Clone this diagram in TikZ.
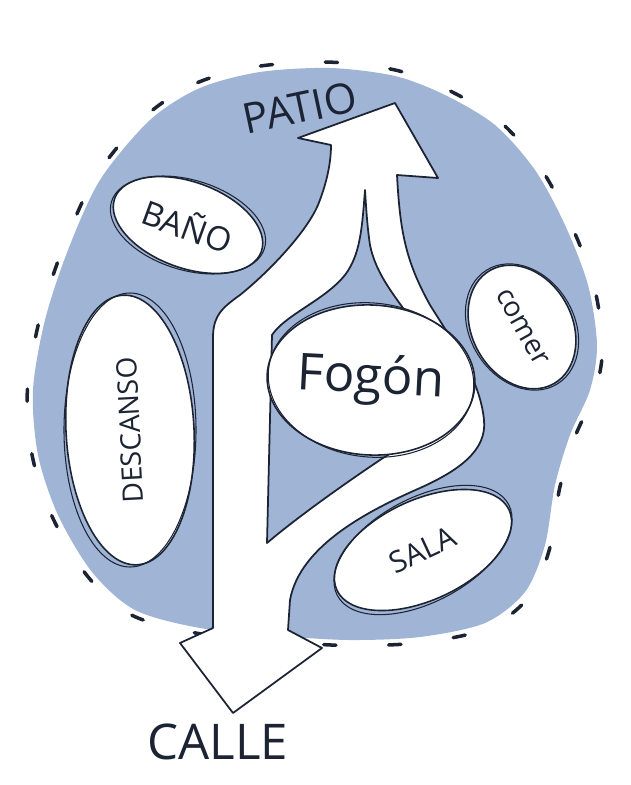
\documentclass[tikz,border=0pt]{standalone}
\usepackage{fontspec}
\setmainfont{Open Sans}
\usetikzlibrary{shapes.geometric}
\definecolor{patioblue}{RGB}{160,180,214}
\definecolor{ink}{RGB}{28,36,52}
\begin{document}
\begin{tikzpicture}[x=0.02cm,y=-0.02cm,
  room/.style={ellipse,draw=ink,fill=white,line width=0.9pt,inner sep=0pt,text=ink},
  sketch/.style={draw=ink,line width=0.6pt},
  label/.style={text=ink,inner sep=0pt}]
  \useasboundingbox (0,0) rectangle (630,785);
  % House: blue blob with a dashed edge
  \fill[patioblue] plot[smooth cycle] coordinates {(150,120) (200,88) (260,72) (330,68) (395,76) (445,95) (495,125) (535,170) (565,225) (588,285) (597,345) (590,390) (570,435) (555,485) (545,545) (525,592) (485,623) (420,637) (350,640) (280,636) (200,628) (135,610) (92,572) (58,515) (38,455) (33,390) (45,320) (68,250) (100,180)};
  \draw[ink,line width=2pt,line cap=round,dash pattern=on 7pt off 30pt,scale around={1.02:(315,360)}] plot[smooth cycle] coordinates {(150,120) (200,88) (260,72) (330,68) (395,76) (445,95) (495,125) (535,170) (565,225) (588,285) (597,345) (590,390) (570,435) (555,485) (545,545) (525,592) (485,623) (420,637) (350,640) (280,636) (200,628) (135,610) (92,572) (58,515) (38,455) (33,390) (45,320) (68,250) (100,180)};
  % Big arrow: street up to the patio
  \filldraw[fill=white,draw=ink,line width=1pt,line join=round]
    (233,713) -- (180,643) -- (213,628) -- (213,450) -- (213,335)
    .. controls (214,315) and (222,308) .. (240,295)
    .. controls (265,275) and (305,235) .. (318,205)
    .. controls (328,180) and (331,160) .. (331,145)
    -- (298,138) -- (395,103) -- (438,178) -- (397,175)
    .. controls (400,230) and (405,260) .. (430,305)
    .. controls (455,345) and (480,380) .. (484,420)
    .. controls (487,450) and (460,470) .. (420,488)
    .. controls (370,510) and (300,545) .. (290,600)
    -- (288,630) -- (322,648) -- cycle;
  % Blue gap between the two branches
  \filldraw[fill=patioblue,draw=ink,line width=1pt,line join=round]
    (365,190) .. controls (362,230) and (360,255) .. (345,275)
    .. controls (325,300) and (285,315) .. (272,335)
    -- (267,543)
    .. controls (300,515) and (350,480) .. (383,458)
    .. controls (400,447) and (420,440) .. (440,434)
    -- (420,380) -- (405,318) -- (403,308)
    .. controls (390,290) and (375,270) .. (370,245)
    .. controls (367,225) and (366,205) .. cycle;
  % Rooms
  \node[room,minimum width=3.12cm,minimum height=1.72cm,rotate=-20,font=\fontsize{19}{19}\selectfont] (bano) at (188,225) {BAÑO};
  \node[room,minimum width=5.4cm,minimum height=2.56cm,rotate=93,font=\fontsize{16}{16}\selectfont] (descanso) at (130,430) {DESCANSO};
  \node[room,minimum width=4cm,minimum height=3cm,rotate=-3,font=\fontsize{29}{29}\selectfont] (fogon) at (371,380) {Fogón};
  \node[room,minimum width=2.6cm,minimum height=2cm,rotate=-61,font=\fontsize{16}{16}\selectfont] (comer) at (522,327) {comer};
  \node[room,minimum width=3.8cm,minimum height=2cm,rotate=25,font=\fontsize{17}{17}\selectfont] (sala) at (423,550) {SALA};
  % Second pencil line round each room
  \draw[sketch,rotate around={-17:(bano.center)}] (bano.center) ellipse (80 and 45);
  \draw[sketch,rotate around={90:(descanso.center)}] (descanso.center) ellipse (137 and 66);
  \draw[sketch,rotate around={-6:(fogon.center)}] (fogon.center) ellipse (103 and 77);
  \draw[sketch,rotate around={-58:(comer.center)}] (comer.center) ellipse (67 and 52);
  \draw[sketch,rotate around={28:(sala.center)}] (sala.center) ellipse (97 and 52);
  % Ends of the route
  \node[label,rotate=12,font=\fontsize{24}{24}\selectfont] (patio) at (300,108) {PATIO};
  \node[label,font=\fontsize{28}{28}\selectfont] (calle) at (218,742) {CALLE};
\end{tikzpicture}
\end{document}
